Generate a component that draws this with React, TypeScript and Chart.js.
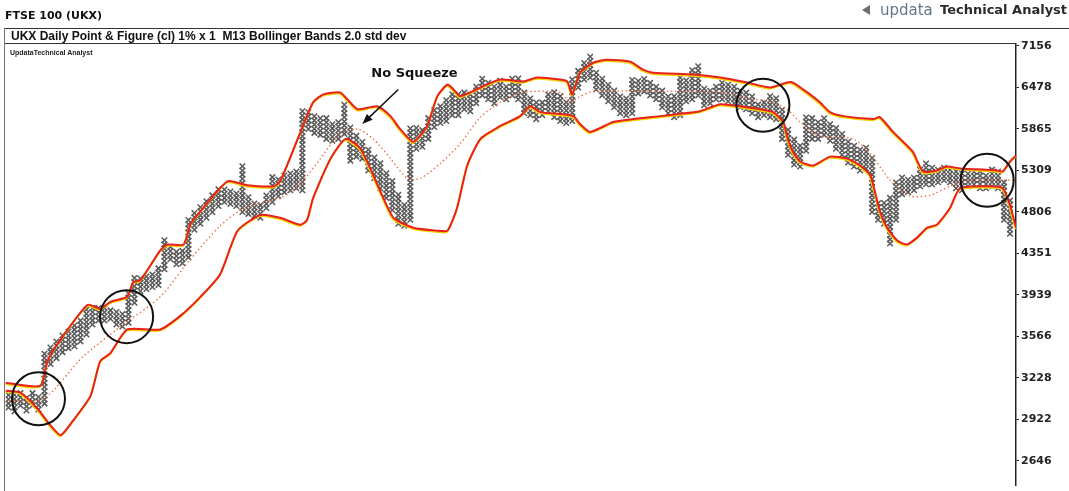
import React, { useEffect, useRef } from "react";
import { Chart, registerables } from "chart.js";

Chart.register(...registerables);

// Price axis tick labels (log / 1% box scale)
const tickValues = [7156, 6478, 5865, 5309, 4806, 4351, 3939, 3566, 3228, 2922, 2646];

// Point & Figure columns: top box value of each column
const columnHigh = [
  3108, 3094, 3123, 3079, 3123, 3094, 3417, 3483, 3532, 3583,
  3600, 3652, 3721, 3793, 3820, 3829, 3811, 3802, 3784, 3775,
  3958, 4091, 4111, 4130, 4150, 4189, 4477, 4414, 4373, 4393,
  4717, 4806, 4852, 4945, 5016, 5088, 5064, 5040, 5016, 5360,
  4993, 4922, 4899, 5016, 5210, 5210, 5235, 5260, 5309, 6149,
  6120, 6063, 6034, 6005, 5949, 5977, 6222, 5893, 5755, 5673,
  5593, 5488, 5385, 5260, 5161, 5016, 4899, 5865, 5893, 5837,
  6034, 6149, 6178, 6297, 6387, 6357, 6418, 6387, 6509, 6602,
  6540, 6509, 6571, 6509, 6634, 6602, 6387, 6327, 6237, 6267,
  6357, 6418, 6327, 6237, 6602, 6760, 6890, 6956, 6728, 6602,
  6509, 6418, 6327, 6297, 6602, 6602, 6602, 6571, 6509, 6418,
  6357, 6327, 6634, 6602, 6760, 6825, 6478, 6448, 6509, 6540,
  6509, 6478, 6448, 6387, 6327, 6237, 6267, 6327, 6297, 6120,
  5865, 5727, 5647, 6005, 6005, 5949, 6005, 5949, 5865, 5810,
  5700, 5620, 5593, 5620, 5488, 4922, 4899, 4969, 5161, 5210,
  5185, 5235, 5309, 5385, 5360, 5335, 5360, 5309, 5284, 5260,
  5284, 5309, 5284, 5260, 5309, 5284, 5161, 4969,
];

// Point & Figure columns: bottom box value of each column
const columnLow = [
  3007, 2979, 3021, 2986, 3021, 2993, 3035, 3337, 3385, 3434,
  3467, 3483, 3524, 3583, 3669, 3704, 3704, 3721, 3669, 3652,
  3686, 3865, 3977, 3996, 4015, 4034, 4189, 4290, 4239, 4249,
  4310, 4606, 4672, 4739, 4806, 4876, 4922, 4899, 4876, 4806,
  4784, 4761, 4739, 4852, 4922, 4993, 5040, 5064, 5088, 5064,
  5865, 5810, 5782, 5727, 5700, 5727, 5796, 5436, 5488, 5462,
  5309, 5210, 5088, 4969, 4829, 4672, 4650, 4717, 5593, 5620,
  5727, 5893, 5949, 5977, 6063, 6063, 6149, 6120, 6237, 6357,
  6297, 6237, 6327, 6297, 6357, 6297, 6091, 6063, 6005, 6063,
  6120, 6034, 5977, 5949, 5977, 6478, 6602, 6634, 6448, 6357,
  6267, 6178, 6091, 6063, 6091, 6387, 6418, 6357, 6297, 6178,
  6091, 6034, 6063, 6267, 6297, 6357, 6207, 6237, 6297, 6297,
  6267, 6237, 6178, 6149, 6091, 6034, 6063, 6034, 6005, 5727,
  5514, 5385, 5360, 5567, 5727, 5727, 5782, 5700, 5593, 5514,
  5411, 5360, 5309, 5335, 4806, 4717, 4672, 4456, 4717, 5016,
  5040, 5064, 5112, 5136, 5136, 5161, 5185, 5161, 5088, 5064,
  5112, 5136, 5088, 5088, 5112, 5088, 4717, 4562,
];

// Bollinger bands: [column, value]
const upperBand = [
  [-0.5, 3191], [5.3, 3168], [6.5, 3361], [8.7, 3541], [13.2, 3847], [15.3, 3811],
  [17, 3874], [19.8, 3921], [20.8, 4062], [22, 4081], [25.3, 4383], [26.5, 4445],
  [29.2, 4445], [30.3, 4661], [31.5, 4772], [36.5, 5173], [39.8, 5124], [44.2, 5112],
  [45.3, 5173], [48.7, 5823], [50.8, 6252], [52.5, 6372], [55.3, 6402], [56.5, 6297],
  [58.2, 6149], [61.5, 6193], [63.7, 6048], [65.3, 5865], [67.5, 5687], [69.8, 5907],
  [71.5, 6342], [73.2, 6524], [74.2, 6448], [75.3, 6342], [78.7, 6478], [82, 6602],
  [85.8, 6571], [88.2, 6634], [92, 6602], [93.2, 6571], [94, 6372], [95.3, 6712],
  [97.5, 6874], [99.8, 6923], [103.7, 6890], [105.8, 6760], [107.5, 6712], [114.2, 6681],
  [118.7, 6634], [123.2, 6555], [127, 6478], [129.8, 6555], [130.8, 6555], [133.2, 6402],
  [135.3, 6252], [137, 6106], [139.2, 6048], [144.2, 6005], [145.3, 6034], [147.5, 5823],
  [148.7, 5727], [150.8, 5553], [152.5, 5297], [154.8, 5309], [156.5, 5360], [158.7, 5335],
  [164.8, 5309], [165.8, 5297], [167, 5424], [168, 5501],
];

const middleBand = [
  [-0.5, 3057], [5.8, 3071], [12.5, 3401], [18.7, 3652], [25.3, 3921], [30.3, 4290],
  [35.3, 4650], [38.7, 4829], [42, 4910], [45.3, 4969], [48.7, 5148], [52, 5462],
  [55.3, 5796], [58.2, 5865], [60.8, 5727], [63.7, 5462], [66.5, 5210], [68.7, 5210],
  [72, 5398], [75.3, 5660], [78.7, 6034], [82, 6252], [85.8, 6402], [92, 6402],
  [93.7, 6252], [95.3, 6342], [97.5, 6418], [108.7, 6418], [118.7, 6402], [124.2, 6297],
  [127, 6267], [129.8, 6149], [132, 5963], [135.3, 5768], [140.8, 5727], [143.7, 5527],
  [147, 5185], [150.3, 4993], [153.7, 5004], [157, 5112], [160.3, 5185], [168, 5185],
];

const lowerBand = [
  [-0.5, 3130], [2, 3116], [4.8, 3000], [7, 2881], [8.7, 2814], [10.8, 2916],
  [13.7, 3094], [15.3, 3361], [17, 3426], [19.8, 3626], [25.3, 3626], [28.7, 3748],
  [32, 3921], [35.3, 4140], [38.2, 4595], [42, 4772], [45.3, 4739], [48.7, 4661],
  [49.8, 4717], [50.8, 4969], [53.7, 5462], [56.2, 5727], [58.7, 5593], [62, 5051],
  [64.2, 4739], [67.5, 4628], [71.5, 4595], [73.2, 4595], [74.8, 4852], [76.5, 5373],
  [78.7, 5727], [82, 5907], [85.3, 6048], [87, 6193], [88.7, 6106], [92, 6077],
  [94.2, 6048], [95.3, 5935], [97, 5823], [100.8, 5963], [104.2, 6005], [108.7, 6048],
  [111.5, 6077], [115.3, 6120], [118.7, 6222], [122, 6193], [125.3, 6149], [127.5, 6106],
  [129.2, 5963], [129.8, 5768], [130.8, 5553], [132, 5424], [134.2, 5373], [137, 5488],
  [139.8, 5462], [142, 5373], [143.7, 5247], [145.3, 4818], [146.5, 4628], [148.2, 4487],
  [149.8, 4445], [151.5, 4519], [153.2, 4628], [154.8, 4661], [155.8, 4739], [157, 4852],
  [158.7, 5088], [163.7, 5112], [165.8, 5088], [167, 4887], [168, 4628],
];

// Squeeze circles (column, value) and the "No Squeeze" note
const squeezeCircles = [
  [5, 3071], [19.7, 3739], [125.8, 6207], [163.2, 5185],
];
const noteLabel = "No Squeeze";
const notePosition = [67.7, 6697];
const noteArrowTail = [65, 6448];
const noteArrowHead = [59, 5935];

const BOX = 1.01;

function buildBoxes() {
  const pts: { x: number; y: number }[] = [];
  for (let i = 0; i < columnHigh.length; i++) {
    let v = columnLow[i];
    while (v <= columnHigh[i] * 1.004) {
      pts.push({ x: i, y: v });
      v *= BOX;
    }
  }
  return pts;
}

const toXY = (arr: number[][]) => arr.map(([x, y]) => ({ x, y }));

const shadowPlugin = {
  id: "bandShadow",
  beforeDatasetDraw(chart: any, args: any) {
    const ds = chart.data.datasets[args.index];
    if (ds.bandShadow) {
      const ctx = chart.ctx;
      ctx.save();
      ctx.shadowColor = "#f3d400";
      ctx.shadowOffsetX = -0.5;
      ctx.shadowOffsetY = 1.2;
      ctx.shadowBlur = 0;
    }
  },
  afterDatasetDraw(chart: any, args: any) {
    const ds = chart.data.datasets[args.index];
    if (ds.bandShadow) chart.ctx.restore();
  },
};

const annotationPlugin = {
  id: "annotations",
  afterDatasetsDraw(chart: any) {
    const { ctx, scales } = chart;
    const xs = scales.x;
    const ys = scales.y;
    ctx.save();
    ctx.strokeStyle = "#111";
    ctx.lineWidth = 2;
    squeezeCircles.forEach(([cx, cy]) => {
      ctx.beginPath();
      ctx.arc(xs.getPixelForValue(cx), ys.getPixelForValue(cy), 26.5, 0, Math.PI * 2);
      ctx.stroke();
    });
    ctx.fillStyle = "#111";
    ctx.font = "bold 13px 'DejaVu Sans'";
    ctx.textAlign = "center";
    ctx.textBaseline = "middle";
    ctx.fillText(noteLabel, xs.getPixelForValue(notePosition[0]), ys.getPixelForValue(notePosition[1]));
    const x1 = xs.getPixelForValue(noteArrowTail[0]);
    const y1 = ys.getPixelForValue(noteArrowTail[1]);
    const x2 = xs.getPixelForValue(noteArrowHead[0]);
    const y2 = ys.getPixelForValue(noteArrowHead[1]);
    const ang = Math.atan2(y2 - y1, x2 - x1);
    const hl = 11;
    ctx.lineWidth = 1.5;
    ctx.beginPath();
    ctx.moveTo(x1, y1);
    ctx.lineTo(x2 - Math.cos(ang) * hl * 0.8, y2 - Math.sin(ang) * hl * 0.8);
    ctx.stroke();
    ctx.beginPath();
    ctx.moveTo(x2, y2);
    ctx.lineTo(x2 - hl * Math.cos(ang - 0.38), y2 - hl * Math.sin(ang - 0.38));
    ctx.lineTo(x2 - hl * Math.cos(ang + 0.38), y2 - hl * Math.sin(ang + 0.38));
    ctx.closePath();
    ctx.fill();
    ctx.restore();
  },
};

export default function App() {
  const ref = useRef<HTMLCanvasElement | null>(null);

  useEffect(() => {
    document.body.style.margin = "0";
    const canvas = ref.current;
    if (!canvas) return;
    const bandStyle = {
      borderColor: "#e8211b",
      borderWidth: 2,
      pointRadius: 0,
      tension: 0.2,
      fill: false,
      bandShadow: true,
    };
    const chart = new Chart(canvas, {
      type: "line",
      data: {
        datasets: [
          { ...bandStyle, label: "Upper", data: toXY(upperBand), order: 1 } as any,
          { ...bandStyle, label: "Lower", data: toXY(lowerBand), order: 2 } as any,
          {
            label: "Middle",
            data: toXY(middleBand),
            borderColor: "#ef6a3c",
            borderWidth: 1.3,
            borderDash: [1.5, 2.6],
            pointRadius: 0,
            tension: 0.25,
            order: 3,
          },
          {
            label: "P&F",
            data: buildBoxes(),
            showLine: false,
            pointStyle: "crossRot",
            pointRadius: 3.9,
            pointBorderWidth: 1.5,
            pointBorderColor: "#585858",
            pointBackgroundColor: "#585858",
            order: 10,
          },
        ],
      },
      options: {
        animation: false,
        responsive: false,
        devicePixelRatio: 1,
        events: [],
        layout: { padding: { left: 5, top: 44, right: 0, bottom: 0 } },
        plugins: {
          legend: { display: false },
          tooltip: { enabled: false },
          title: { display: false },
        },
        scales: {
          x: { type: "linear", min: -0.5, max: 168, display: false },
          y: {
            type: "logarithmic",
            position: "right",
            min: 2494,
            max: 7190,
            afterFit: (s: any) => {
              s.width = 53;
              s.paddingTop = 0;
              s.paddingBottom = 0;
            },
            afterBuildTicks: (s: any) => {
              s.ticks = tickValues.map((v) => ({ value: v }));
            },
            grid: { drawOnChartArea: false, drawTicks: true, tickLength: 3, color: "#222" },
            border: { display: true, color: "#222", width: 1.5 },
            ticks: {
              callback: (v: any) => String(v),
              font: { family: "'DejaVu Sans'", weight: "bold", size: 11 },
              color: "#222",
              padding: 2,
              autoSkip: false,
            },
          },
        },
      },
      plugins: [shadowPlugin, annotationPlugin],
    });
    return () => chart.destroy();
  }, []);

  return (
    <div style={{ position: "relative", width: 1069, height: 491, background: "#fff", overflow: "hidden" }}>
      <canvas ref={ref} width={1069} height={491} style={{ position: "absolute", left: 0, top: 0 }} />
      <div style={{ position: "absolute", left: 5, top: 9, font: "bold 11px 'DejaVu Sans'", color: "#111", lineHeight: "13px", whiteSpace: "nowrap" }}>
        FTSE 100 (UKX)
      </div>
      <div style={{ position: "absolute", left: 862, top: 5, width: 0, height: 0, borderTop: "5px solid transparent", borderBottom: "5px solid transparent", borderRight: "8px solid #6d6d6d" }} />
      <div style={{ position: "absolute", left: 880, top: 1, font: "15px 'DejaVu Sans'", color: "#65748a", lineHeight: "18px", whiteSpace: "nowrap" }}>
        updata
      </div>
      <div style={{ position: "absolute", left: 940, top: 2, font: "bold 13px 'DejaVu Sans'", color: "#2a2a2a", lineHeight: "16px", whiteSpace: "nowrap" }}>
        Technical Analyst
      </div>
      <div style={{ position: "absolute", left: 4, top: 28, width: 1065, height: 1, background: "#333" }} />
      <div style={{ position: "absolute", left: 4, top: 43, width: 1012, height: 1, background: "#333" }} />
      <div style={{ position: "absolute", left: 4, top: 28, width: 1, height: 463, background: "#777" }} />
      <div style={{ position: "absolute", left: 11, top: 29, font: "bold 12px 'Liberation Sans'", color: "#111", lineHeight: "14px", whiteSpace: "nowrap" }}>
        UKX Daily Point &amp; Figure (cl) 1% x 1&nbsp; M13 Bollinger Bands 2.0 std dev
      </div>
      <div style={{ position: "absolute", left: 10, top: 48, font: "bold 7px 'Liberation Sans'", color: "#222", lineHeight: "9px", whiteSpace: "nowrap" }}>
        UpdataTechnical Analyst
      </div>
    </div>
  );
}
